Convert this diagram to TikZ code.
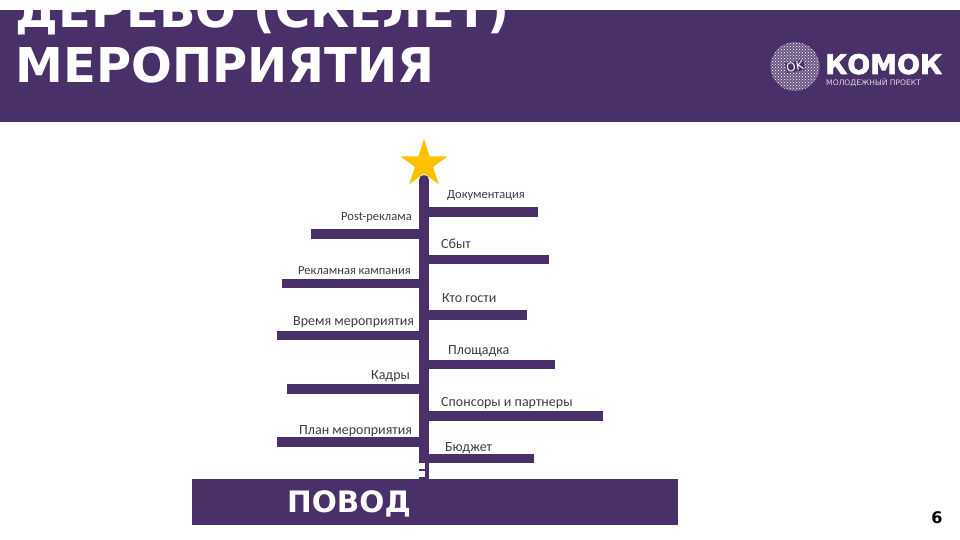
\documentclass[tikz,border=0pt]{standalone}
\usepackage{xcolor}
\usepackage{fontspec}
\setmainfont{Carlito}
\newfontfamily\headfont{DejaVu Sans}
\newfontfamily\logofont[FakeBold=2.5]{DejaVu Sans Bold}
\usetikzlibrary{shapes.geometric, patterns, positioning}
\definecolor{plum}{HTML}{4A3068}
\definecolor{labelgray}{HTML}{3F3A48}
\definecolor{stargold}{HTML}{FFC000}

\begin{document}
\begin{tikzpicture}[
  x=1pt, y=-1pt,
  band/.style={rectangle, fill=plum, inner sep=0pt, anchor=north west},
  stem/.style={plum, line width=10pt, line cap=round},
  branch/.style={plum, line width=9.5pt},
  notch/.style={rectangle, fill=white, inner sep=0pt, minimum width=6pt, minimum height=6pt},
  lbl/.style={text=labelgray, font=\fontsize{14}{15}\selectfont, inner sep=0pt, anchor=base west},
  lblsmall/.style={lbl, font=\fontsize{12.5}{15}\selectfont},
  head/.style={text=white, font=\headfont\bfseries\fontsize{48}{54}\selectfont, inner sep=0pt, anchor=base west}
]
\useasboundingbox (0,0) rectangle (960,540);
% header
\node[band, minimum width=960pt, minimum height=112pt] (header) at (0,10) {};
\node[head] (title1) at (15.5,28) {ДЕРЕВО (СКЕЛЕТ)};
\node[head] (title2) at (15.5,83) {МЕРОПРИЯТИЯ};
% logo
\node[circle, minimum size=49pt, inner sep=0pt, fill=white!20!plum, postaction={pattern=crosshatch dots, pattern color=white}] (ball) at (795,66.5) {};
\node[text=white, font=\headfont\fontsize{12}{12}\selectfont, inner sep=0.5pt, fill=plum, rotate=10] (ballok) at (ball) {OK};
\node[text=white, font=\logofont\fontsize{27}{28}\selectfont, inner sep=0pt, anchor=base west] (komok) at (825,74) {КОМОК};
\node[text=white!80!plum, font=\headfont\fontsize{7.6}{8}\selectfont, inner sep=0pt, anchor=base west] (komoksub) at (826,85.5) {МОЛОДЕЖНЫЙ ПРОЕКТ};
% tree
\node[star, star points=5, star point ratio=2.618, fill=stargold, minimum size=50pt, inner sep=0pt] (topstar) at (424,164) {};
\node[band, minimum width=486pt, minimum height=46pt] (base) at (192,479) {};
\coordinate (top) at (424,180);
\draw[stem] (base.north -| top) -- (top);
\node[notch] (notch1) at (422,466) {};
\node[notch] (notch2) at (422,474) {};
\node[text=white, font=\headfont\bfseries\fontsize{29.5}{32}\selectfont, inner sep=0pt, anchor=base west] (povod) at (287,512) {ПОВОД};
% right side
\coordinate (doc) at (538,212);
\coordinate (sales) at (549,259.5);
\coordinate (guests) at (527,315);
\coordinate (venue) at (555,364.5);
\coordinate (sponsors) at (603,416);
\coordinate (budget) at (534,458.5);
\draw[branch] (top |- doc) -- (doc);
\draw[branch] (top |- sales) -- (sales);
\draw[branch] (top |- guests) -- (guests);
\draw[branch] (top |- venue) -- (venue);
\draw[branch] (top |- sponsors) -- (sponsors);
\draw[branch] (top |- budget) -- (budget);
% left side
\coordinate (post) at (311,234);
\coordinate (ads) at (282,283.5);
\coordinate (timing) at (277,335.5);
\coordinate (staff) at (287,389);
\coordinate (plan) at (277,442);
\draw[branch] (top |- post) -- (post);
\draw[branch] (top |- ads) -- (ads);
\draw[branch] (top |- timing) -- (timing);
\draw[branch] (top |- staff) -- (staff);
\draw[branch] (top |- plan) -- (plan);
% labels
\node[lblsmall] (doclbl) at (447,198) {Документация};
\node[lbl] (saleslbl) at (441,248) {Сбыт};
\node[lbl] (guestslbl) at (442,302) {Кто гости};
\node[lbl] (venuelbl) at (448,354) {Площадка};
\node[lbl] (sponsorslbl) at (441,406) {Спонсоры и партнеры};
\node[lbl] (budgetlbl) at (445,451) {Бюджет};
\node[lblsmall] (postlbl) at (341,220) {Post-реклама};
\node[lblsmall] (adslbl) at (298,274) {Рекламная кампания};
\node[lbl] (timinglbl) at (293,325) {Время мероприятия};
\node[lbl] (stafflbl) at (371,379) {Кадры};
\node[lbl] (planlbl) at (299,434) {План мероприятия};
% page number
\node[text=black, font=\headfont\bfseries\fontsize{16}{16}\selectfont, inner sep=0pt] (pagenum) at (937,517.5) {6};
\end{tikzpicture}
\end{document}
